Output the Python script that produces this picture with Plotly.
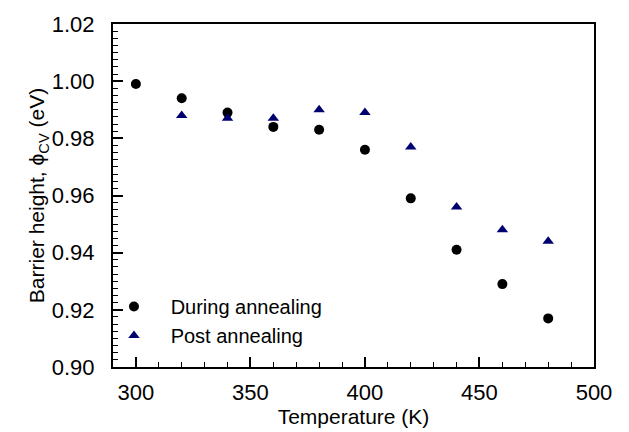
import plotly.graph_objects as go

temp_during = [300, 320, 340, 360, 380, 400, 420, 440, 460, 480]
phi_during = [0.999, 0.994, 0.989, 0.984, 0.983, 0.976, 0.959, 0.941, 0.929, 0.917]
temp_post = [320, 340, 360, 380, 400, 420, 440, 460, 480]
phi_post = [0.988, 0.987, 0.987, 0.990, 0.989, 0.977, 0.956, 0.948, 0.944]

pad = "\u00a0\u00a0\u00a0"
fig = go.Figure()
fig.add_trace(go.Scatter(x=temp_during, y=phi_during, mode="markers", name=pad + "During annealing",
                         marker=dict(symbol="circle", size=10, color="black")))
fig.add_trace(go.Scatter(x=temp_post, y=phi_post, mode="markers", name=pad + "Post annealing",
                         marker=dict(symbol="triangle-up", size=10, color="#000070")))

font = "Liberation Sans, Arial, sans-serif"
fig.update_layout(
    width=629, height=432,
    margin=dict(l=113, r=35, t=22, b=64),
    plot_bgcolor="white", paper_bgcolor="white",
    font=dict(family=font, size=20, color="black"),
    showlegend=True,
    legend=dict(x=0.002, y=0.035, xanchor="left", yanchor="bottom", bgcolor="rgba(0,0,0,0)",
                font=dict(size=20), itemsizing="trace", tracegroupgap=0),
    xaxis=dict(range=[290, 500], tickvals=[300, 350, 400, 450, 500], ticks="inside", ticklen=10,
               tickwidth=1.5, tickcolor="black", showline=True, linecolor="black", linewidth=2,
               mirror=True, showgrid=False, zeroline=False, ticklabelstandoff=5,
               minor=dict(dtick=10, tick0=290, ticks="inside", ticklen=5, tickwidth=1.2, tickcolor="black"),
               title=dict(text="Temperature (K)", font=dict(size=21), standoff=0),
               tickfont=dict(size=22)),
    yaxis=dict(range=[0.90, 1.02], dtick=0.02, tick0=0.90, tickformat=".2f", ticks="inside", ticklen=10,
               tickwidth=1.5, tickcolor="black", showline=True, linecolor="black", linewidth=2,
               mirror=True, showgrid=False, zeroline=False, ticklabelstandoff=12,
               minor=dict(dtick=0.0025, ticks="inside", ticklen=5, tickwidth=1.2, tickcolor="black"),
               title=dict(text="Barrier height, ϕ<sub>CV</sub> (eV)", font=dict(size=21), standoff=0),
               tickfont=dict(size=22)),
)
fig.write_html("out.html")
